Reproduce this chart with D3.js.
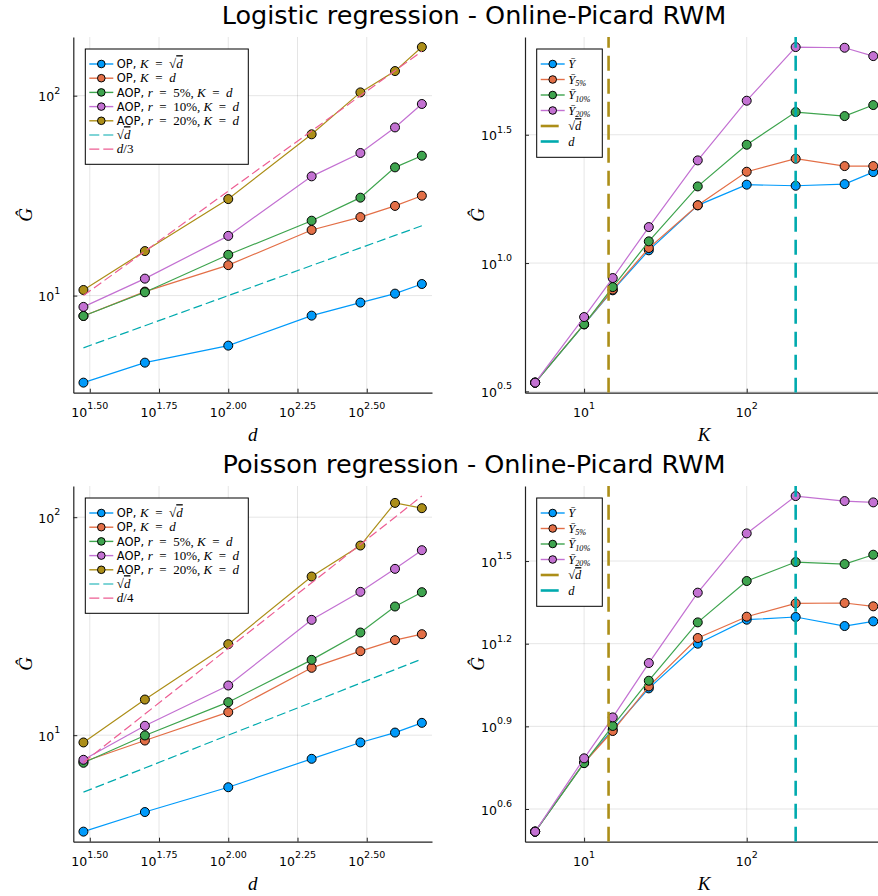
<!DOCTYPE html>
<html>
<head>
<meta charset="utf-8">
<script src="https://cdn.jsdelivr.net/npm/d3@7"></script>
<style>
  body { margin: 0; background: #fff; overflow: hidden; }
  text { font-family: "DejaVu Sans", sans-serif; white-space: pre; }
  .ms { font-family: "Liberation Serif", serif; font-style: italic; }
  .mr { font-family: "Liberation Serif", serif; }
</style>
</head>
<body>
<script>
// ---- data ----
var dVals = [30, 50, 100, 200, 300, 400, 500];
var kVals = [5, 10, 15, 25, 50, 100, 200, 400, 600];

// logistic, G-hat vs d
var logitOpSqrt = [3.67, 4.62, 5.62, 7.94, 9.23, 10.23, 11.43];
var logitOpD    = [7.91, 10.47, 14.2, 21.3, 24.7, 28.1, 31.6];
var logitAop5   = [7.91, 10.39, 16.0, 23.7, 30.9, 43.8, 50.1];
var logitAop10  = [8.78, 12.16, 19.9, 39.5, 51.7, 69.4, 90.9];
var logitAop20  = [10.67, 16.7, 30.4, 64.1, 103.9, 132.8, 175.1];
var refSqrtD    = [5.48, 7.07, 10.0, 14.14, 17.32, 20.0, 22.36];
var refDOver3   = [10.0, 16.67, 33.33, 66.67, 100.0, 133.33, 166.67];

// poisson, G-hat vs d
var poisOpSqrt = [3.61, 4.44, 5.77, 7.79, 9.26, 10.28, 11.39];
var poisOpD    = [7.55, 9.45, 12.75, 20.37, 24.29, 27.29, 29.06];
var poisAop5   = [7.47, 9.97, 14.17, 22.16, 29.58, 38.93, 45.29];
var poisAop10  = [7.71, 11.04, 16.9, 33.81, 45.45, 57.94, 70.58];
var poisAop20  = [9.26, 14.57, 26.15, 53.44, 74.13, 116.3, 109.98];
var refDOver4  = [7.5, 12.5, 25.0, 50.0, 75.0, 100.0, 125.0];

// logistic, G-hat vs K (d = 200)
var logitY    = [3.42, 5.77, 7.83, 11.21, 16.78, 20.2, 20.01, 20.31, 22.62];
var logitY5   = [3.42, 5.78, 7.88, 11.44, 16.8, 22.69, 25.5, 23.87, 23.87];
var logitY10  = [3.42, 5.77, 8.06, 12.15, 19.89, 28.91, 38.75, 37.38, 41.27];
var logitY20  = [3.42, 6.16, 8.74, 13.81, 25.12, 42.91, 69.44, 69.02, 64.04];

// poisson, G-hat vs K (d = 200)
var poisY    = [3.295, 5.86, 7.75, 10.91, 15.85, 19.37, 19.81, 18.37, 19.1];
var poisY5   = [3.295, 5.86, 7.64, 11.09, 16.62, 19.86, 22.2, 22.27, 21.66];
var poisY10  = [3.295, 5.84, 7.97, 11.63, 18.94, 26.76, 31.36, 30.84, 33.34];
var poisY20  = [3.295, 6.08, 8.56, 13.48, 24.28, 39.84, 54.43, 52.2, 51.63];

var kSqrtD = 14.14, kD = 200;

// ticks (exponents of 10) and their labels
var dTickExp = [1.5, 1.75, 2.0, 2.25, 2.5];
var dTickLab = ["1.50", "1.75", "2.00", "2.25", "2.50"];
var gTickExpLeft = [1, 2];
var gTickLabLeft = ["1", "2"];
var kTickExp = [1, 2];
var kTickLab = ["1", "2"];
var gTickExpTopRight = [0.5, 1.0, 1.5];
var gTickLabTopRight = ["0.5", "1.0", "1.5"];
var gTickExpBotRight = [0.6, 0.9, 1.2, 1.5];
var gTickLabBotRight = ["0.6", "0.9", "1.2", "1.5"];

var titles = ["Logistic regression - Online-Picard RWM", "Poisson regression - Online-Picard RWM"];

var colors = ["#009AFA", "#E36F47", "#3EA44E", "#C371D2", "#AC8E18", "#00AAAE", "#ED5E93"];

// ---- layout ----
var width = 878, height = 896;
var leftX = [73.3, 432], rightX = [525, 883.4];
var rowY = [[37, 392.7], [486, 841.7]];
var EQ = '\u2002=\u2002';

var svg = d3.select('body').append('svg')
  .attr('width', width).attr('height', height);

function widen(lo, hi) {
  var a = Math.log10(lo), b = Math.log10(hi), m = (b - a) * 0.03;
  return [Math.pow(10, a - m), Math.pow(10, b + m)];
}

function supText(g, x, y, anchor, exp) {
  var t = g.append('text').attr('x', x).attr('y', y)
    .attr('text-anchor', anchor).style('font-size', '12.5px').attr('fill', '#000');
  t.append('tspan').text('10');
  t.append('tspan').attr('dy', -7.5).style('font-size', '9.5px').text(exp);
}

function addLabel(t, parts, fs, mfs) {
  var shift = 0;
  parts.forEach(function (p) {
    var ts = t.append('tspan').text(p.t);
    if (p.c) ts.attr('class', p.c);
    ts.style('font-size', (p.sub ? mfs * 0.66 : (p.c ? mfs : fs)) + 'px');
    if (p.sub) { ts.attr('dy', 2.5); shift = 2.5; }
    else if (shift) { ts.attr('dy', -shift); shift = 0; }
    if (p.over) ts.style('text-decoration', 'overline');
  });
}

var clipN = 0;
function panel(xr, yr, xDom, yDom, xTicks, xLabs, yTicks, yLabs, xName) {
  var g = svg.append('g');
  var x = d3.scaleLog().domain(xDom).range(xr);
  var y = d3.scaleLog().domain(yDom).range([yr[1], yr[0]]);
  var id = 'clip' + (clipN++);
  g.append('clipPath').attr('id', id).append('rect')
    .attr('x', xr[0]).attr('y', yr[0]).attr('width', xr[1] - xr[0]).attr('height', yr[1] - yr[0]);

  // grid
  xTicks.forEach(function (e) {
    g.append('line').attr('x1', x(Math.pow(10, e))).attr('x2', x(Math.pow(10, e)))
      .attr('y1', yr[0]).attr('y2', yr[1]).attr('stroke', '#000').attr('stroke-opacity', 0.1);
  });
  yTicks.forEach(function (e) {
    g.append('line').attr('y1', y(Math.pow(10, e))).attr('y2', y(Math.pow(10, e)))
      .attr('x1', xr[0]).attr('x2', xr[1]).attr('stroke', '#000').attr('stroke-opacity', 0.1);
  });

  var xa = g.append('g').attr('transform', 'translate(0,' + yr[1] + ')')
    .call(d3.axisBottom(x).tickValues(xTicks.map(function (e) { return Math.pow(10, e); }))
      .tickSize(-4).tickSizeOuter(0).tickFormat(''));
  var ya = g.append('g').attr('transform', 'translate(' + xr[0] + ',0)')
    .call(d3.axisLeft(y).tickValues(yTicks.map(function (e) { return Math.pow(10, e); }))
      .tickSize(-4).tickSizeOuter(0).tickFormat(''));
  [xa, ya].forEach(function (a) {
    a.select('.domain').attr('stroke', '#222').attr('stroke-width', 1.2);
    a.selectAll('.tick line').attr('stroke', '#222');
  });

  xTicks.forEach(function (e, i) {
    supText(g, x(Math.pow(10, e)), yr[1] + 24, 'middle', xLabs[i]);
  });
  yTicks.forEach(function (e, i) {
    supText(g, xr[0] - 13, y(Math.pow(10, e)) + 5.5, 'end', yLabs[i]);
  });

  g.append('text').attr('class', 'ms').attr('x', (xr[0] + xr[1]) / 2).attr('y', yr[1] + 48)
    .attr('text-anchor', 'middle').style('font-size', '19px').text(xName);
  g.append('text').attr('class', 'ms')
    .attr('transform', 'translate(' + (xr[0] - 48) + ',' + ((yr[0] + yr[1]) / 2) + ') rotate(-90)')
    .attr('text-anchor', 'middle').attr('dy', '0.35em').style('font-size', '19px').text('\u011C');

  var plot = g.append('g').attr('clip-path', 'url(#' + id + ')');
  return { g: g, plot: plot, x: x, y: y };
}

function series(p, xs, ys, color) {
  var pts = xs.map(function (v, i) { return [v, ys[i]]; });
  p.plot.append('path').datum(pts)
    .attr('d', d3.line().x(function (d) { return p.x(d[0]); }).y(function (d) { return p.y(d[1]); }))
    .attr('fill', 'none').attr('stroke', color).attr('stroke-width', 1.2);
  p.plot.selectAll(null).data(pts).enter().append('circle')
    .attr('cx', function (d) { return p.x(d[0]); }).attr('cy', function (d) { return p.y(d[1]); })
    .attr('r', 4.5).attr('fill', color).attr('stroke', '#000').attr('stroke-width', 1);
}

function dashed(p, xs, ys, color) {
  var pts = xs.map(function (v, i) { return [v, ys[i]]; });
  p.plot.append('path').datum(pts)
    .attr('d', d3.line().x(function (d) { return p.x(d[0]); }).y(function (d) { return p.y(d[1]); }))
    .attr('fill', 'none').attr('stroke', color).attr('stroke-width', 1.2).attr('stroke-dasharray', '9,4');
}

function vline(p, k, color, yr) {
  p.plot.append('line').attr('x1', p.x(k)).attr('x2', p.x(k)).attr('y1', yr[1]).attr('y2', yr[0])
    .attr('stroke', color).attr('stroke-width', 2.6).attr('stroke-dasharray', '15,8');
}

function legend(g, bx, by, bw, bh, step, items, mfs) {
  g.append('rect').attr('x', bx).attr('y', by).attr('width', bw).attr('height', bh)
    .attr('fill', '#fff').attr('stroke', '#000').attr('stroke-width', 1);
  items.forEach(function (it, i) {
    var cy = by + 15 + i * step;
    var ln = g.append('line').attr('x1', bx + 4).attr('x2', bx + 28).attr('y1', cy).attr('y2', cy)
      .attr('stroke', it.color);
    if (it.kind === 'dash') ln.attr('stroke-width', 1.2).attr('stroke-dasharray', '10,4');
    else if (it.kind === 'vline') ln.attr('stroke-width', 2.6).attr('stroke-dasharray', '18,8');
    else {
      ln.attr('stroke-width', 1.4);
      g.append('circle').attr('cx', bx + 16).attr('cy', cy).attr('r', 3.8)
        .attr('fill', it.color).attr('stroke', '#000').attr('stroke-width', 1);
    }
    var t = g.append('text').attr('x', bx + 31.5).attr('y', cy + 4.2).attr('fill', '#000');
    addLabel(t, it.label, 11.5, mfs);
  });
}

function leftLegendItems(refName) {
  return [
    { color: colors[0], label: [{ t: 'OP, ' }, { t: 'K', c: 'ms' }, { t: EQ + '\u221A', c: 'mr' }, { t: 'd', c: 'ms', over: true }] },
    { color: colors[1], label: [{ t: 'OP, ' }, { t: 'K', c: 'ms' }, { t: EQ, c: 'mr' }, { t: 'd', c: 'ms' }] },
    { color: colors[2], label: [{ t: 'AOP, ' }, { t: 'r', c: 'ms' }, { t: EQ + '5%, ', c: 'mr' }, { t: 'K', c: 'ms' }, { t: EQ, c: 'mr' }, { t: 'd', c: 'ms' }] },
    { color: colors[3], label: [{ t: 'AOP, ' }, { t: 'r', c: 'ms' }, { t: EQ + '10%, ', c: 'mr' }, { t: 'K', c: 'ms' }, { t: EQ, c: 'mr' }, { t: 'd', c: 'ms' }] },
    { color: colors[4], label: [{ t: 'AOP, ' }, { t: 'r', c: 'ms' }, { t: EQ + '20%, ', c: 'mr' }, { t: 'K', c: 'ms' }, { t: EQ, c: 'mr' }, { t: 'd', c: 'ms' }] },
    { color: colors[5], kind: 'dash', label: [{ t: '\u221A', c: 'mr' }, { t: 'd', c: 'ms', over: true }] },
    { color: colors[6], kind: 'dash', label: [{ t: 'd', c: 'ms' }, { t: '/' + refName, c: 'mr' }] }
  ];
}

var rightLegendItems = [
  { color: colors[0], label: [{ t: '\u0232', c: 'ms' }] },
  { color: colors[1], label: [{ t: '\u0232', c: 'ms' }, { t: '5%', c: 'ms', sub: true }] },
  { color: colors[2], label: [{ t: '\u0232', c: 'ms' }, { t: '10%', c: 'ms', sub: true }] },
  { color: colors[3], label: [{ t: '\u0232', c: 'ms' }, { t: '20%', c: 'ms', sub: true }] },
  { color: colors[4], kind: 'vline', label: [{ t: '\u221A', c: 'mr' }, { t: 'd', c: 'ms', over: true }] },
  { color: colors[5], kind: 'vline', label: [{ t: 'd', c: 'ms' }] }
];

var leftSets = [
  [logitOpSqrt, logitOpD, logitAop5, logitAop10, logitAop20, refSqrtD, refDOver3, '3'],
  [poisOpSqrt, poisOpD, poisAop5, poisAop10, poisAop20, refSqrtD, refDOver4, '4']
];
var rightSets = [
  [logitY, logitY5, logitY10, logitY20, gTickExpTopRight, gTickLabTopRight],
  [poisY, poisY5, poisY10, poisY20, gTickExpBotRight, gTickLabBotRight]
];

for (var r = 0; r < 2; r++) {
  var yr = rowY[r];
  svg.append('text').attr('x', 474).attr('y', yr[0] - 13).attr('text-anchor', 'middle')
    .style('font-size', '25.5px').attr('fill', '#000').text(titles[r]);

  // left panel: G vs d
  var ls = leftSets[r];
  var allL = [].concat(ls[0], ls[1], ls[2], ls[3], ls[4], ls[5], ls[6]);
  var pl = panel(leftX, yr, widen(d3.min(dVals), d3.max(dVals)), widen(d3.min(allL), d3.max(allL)),
    dTickExp, dTickLab, gTickExpLeft, gTickLabLeft, 'd');
  for (var s = 0; s < 5; s++) series(pl, dVals, ls[s], colors[s]);
  dashed(pl, dVals, ls[5], colors[5]);
  dashed(pl, dVals, ls[6], colors[6]);
  legend(pl.g, 85.3, yr[0] + 12, 163, 115.3, 14.2, leftLegendItems(ls[7]), 13);

  // right panel: G vs K
  var rs = rightSets[r];
  var allR = [].concat(rs[0], rs[1], rs[2], rs[3]);
  var pr = panel(rightX, yr, widen(d3.min(kVals), d3.max(kVals)), widen(d3.min(allR), d3.max(allR)),
    kTickExp, kTickLab, rs[4], rs[5], 'K');
  for (var s2 = 0; s2 < 4; s2++) series(pr, kVals, rs[s2], colors[s2]);
  vline(pr, kSqrtD, colors[4], yr);
  vline(pr, kD, colors[5], yr);
  legend(pr.g, 536.7, yr[0] + 12, 65.6, 108.3, 15.5, rightLegendItems, 12.5);
}
</script>
</body>
</html>
